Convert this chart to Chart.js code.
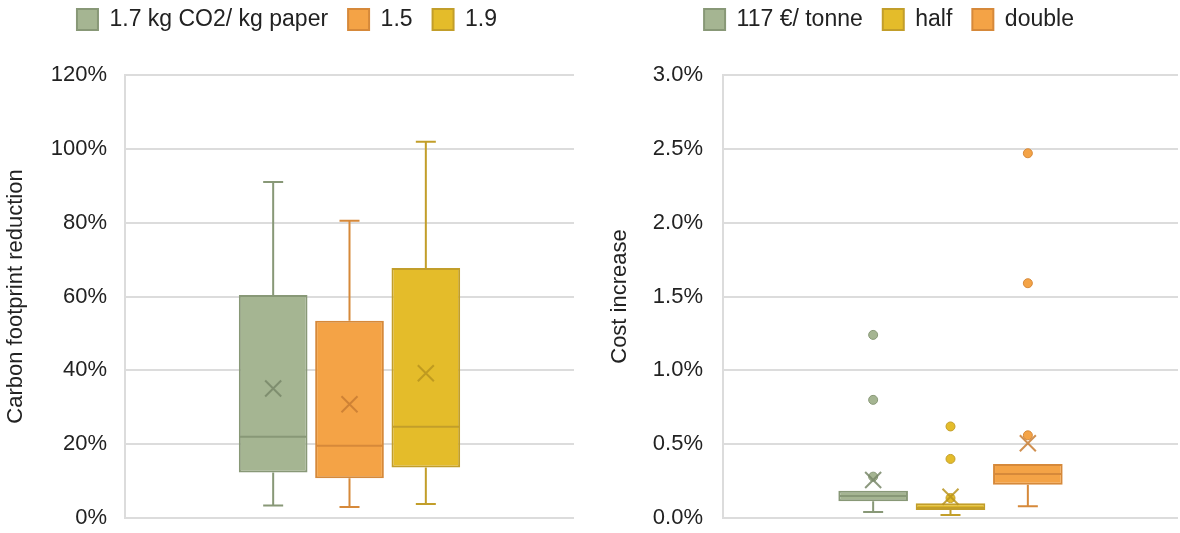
<!DOCTYPE html>
<html>
<head>
<meta charset="utf-8">
<script src="https://cdn.jsdelivr.net/npm/chart.js@4"></script>
<style>
  html, body { margin: 0; padding: 0; background: #fff; overflow: hidden; }
  .panel { position: absolute; top: 0; height: 533px; }
  #left { left: 0; width: 590px; }
  #right { left: 600px; width: 596px; }
</style>
</head>
<body>
<div class="panel" id="left"><canvas id="footprintChart"></canvas></div>
<div class="panel" id="right"><canvas id="costChart"></canvas></div>
<script>
// Carbon footprint reduction (%), one box per emission factor
const cfSeries = ['1.7 kg CO2/ kg paper', '1.5', '1.9'];
const cfMin = [3.4, 3.0, 3.8];
const cfQ1 = [12.3, 10.8, 13.7];
const cfMedian = [22.0, 19.6, 24.7];
const cfQ3 = [60.4, 53.4, 67.7];
const cfMax = [91.0, 80.5, 101.9];
const cfMean = [35.1, 30.8, 39.2];
const cfOutliers = [[], [], []];

// Cost increase (%), one box per carbon price
const costSeries = ['117 €/ tonne', 'half', 'double'];
const costMin = [0.04, 0.02, 0.08];
const costQ1 = [0.113, 0.054, 0.226];
const costMedian = [0.149, 0.07, 0.298];
const costQ3 = [0.185, 0.10, 0.366];
const costMax = [0.185, 0.10, 0.366];
const costMean = [0.257, 0.144, 0.506];
const costOutliers = [[1.24, 0.80, 0.28], [0.62, 0.40, 0.135], [2.47, 1.59, 0.56]];

const GREEN = { fill: '#a5b592', line: '#889877', mean: 'rgba(120,135,105,0.85)' };
const ORANGE = { fill: '#f4a346', line: '#d6893a', mean: 'rgba(200,125,50,0.85)' };
const YELLOW = { fill: '#e4bc2a', line: '#c29e2a', mean: 'rgba(185,148,30,0.85)' };

Chart.defaults.font.family = '"Liberation Sans", Arial, sans-serif';
Chart.defaults.font.size = 22;
Chart.defaults.color = '#222';

// whiskers, median, mean cross and outlier dots on top of the floating bars
const boxPlot = {
  id: 'boxPlot',
  afterDatasetsDraw(chart) {
    const ctx = chart.ctx;
    const y = chart.scales.y;
    chart.data.datasets.forEach((ds, i) => {
      const bar = chart.getDatasetMeta(i).data[0];
      const b = ds.box;
      const x = bar.x;
      const half = bar.width / 2;
      const yQ1 = y.getPixelForValue(ds.data[0][0]);
      const yQ3 = y.getPixelForValue(ds.data[0][1]);
      ctx.save();
      ctx.strokeStyle = ds.borderColor;
      ctx.lineWidth = 2;
      ctx.beginPath();
      if (b.max > ds.data[0][1]) {
        const yMax = y.getPixelForValue(b.max);
        ctx.moveTo(x, yQ3); ctx.lineTo(x, yMax);
        ctx.moveTo(x - 10, yMax); ctx.lineTo(x + 10, yMax);
      }
      if (b.min < ds.data[0][0]) {
        const yMin = y.getPixelForValue(b.min);
        ctx.moveTo(x, yQ1); ctx.lineTo(x, yMin);
        ctx.moveTo(x - 10, yMin); ctx.lineTo(x + 10, yMin);
      }
      const yMed = y.getPixelForValue(b.median);
      ctx.moveTo(x - half + 1, yMed); ctx.lineTo(x + half - 1, yMed);
      ctx.stroke();

      b.outliers.forEach(v => {
        ctx.beginPath();
        ctx.arc(x, y.getPixelForValue(v), 4.5, 0, Math.PI * 2);
        ctx.fillStyle = ds.backgroundColor;
        ctx.fill();
        ctx.lineWidth = 1;
        ctx.strokeStyle = ds.borderColor;
        ctx.stroke();
      });

      const yMean = y.getPixelForValue(b.mean);
      const s = 8;
      ctx.beginPath();
      ctx.strokeStyle = ds.meanColor;
      ctx.lineWidth = 2;
      ctx.moveTo(x - s, yMean - s); ctx.lineTo(x + s, yMean + s);
      ctx.moveTo(x - s, yMean + s); ctx.lineTo(x + s, yMean - s);
      ctx.stroke();
      ctx.restore();
    });
  }
};

// fixed legend band so both plot areas start at the same height
function legendBand(h) {
  return {
    id: 'legendBand',
    beforeLayout(chart) {
      const lg = chart.legend;
      if (lg && !lg._banded) {
        const fit = lg.fit;
        lg.fit = function () { fit.call(this); this.height = h; };
        lg._banded = true;
      }
    }
  };
}

function boxDatasets(names, min, q1, med, q3, max, mean, outliers, colors) {
  return names.map((name, i) => ({
    label: name,
    data: [[q1[i], q3[i]]],
    box: { min: min[i], median: med[i], max: max[i], mean: mean[i], outliers: outliers[i] },
    backgroundColor: colors[i].fill,
    borderColor: colors[i].line,
    meanColor: colors[i].mean,
    borderWidth: 2,
    borderSkipped: false,
    categoryPercentage: 0.51,
    barPercentage: 0.9
  }));
}

function makeChart(id, datasets, yOpts, axisWidth, tickPad, titlePad, rightPad) {
  return new Chart(document.getElementById(id), {
    type: 'bar',
    data: { labels: [''], datasets },
    options: {
      responsive: true,
      maintainAspectRatio: false,
      animation: false,
      layout: { padding: { top: -12, bottom: 15, left: 0, right: rightPad } },
      plugins: {
        legend: {
          position: 'top',
          labels: { boxWidth: 21, boxHeight: 21, padding: 20, font: { size: 23 } }
        },
        tooltip: { enabled: false }
      },
      scales: {
        x: { display: false },
        y: {
          min: yOpts.min,
          max: yOpts.max,
          ticks: {
            stepSize: yOpts.step,
            padding: tickPad,
            font: { size: 22 },
            callback: yOpts.format
          },
          grid: { color: '#dcdcdc', lineWidth: 2, drawTicks: false },
          border: { display: true, color: '#dcdcdc', width: 2 },
          title: {
            display: true,
            text: yOpts.title,
            font: { size: 22 },
            padding: { top: titlePad, bottom: 0 }
          },
          afterFit(scale) {
            scale.width = axisWidth;
            // tick padding is horizontal only here
            scale.paddingTop = 0;
            scale.paddingBottom = 0;
          }
        }
      }
    },
    plugins: [boxPlot, legendBand(87)]
  });
}

makeChart('footprintChart',
  boxDatasets(cfSeries, cfMin, cfQ1, cfMedian, cfQ3, cfMax, cfMean, cfOutliers, [GREEN, ORANGE, YELLOW]),
  { min: 0, max: 120, step: 20, format: v => v + '%', title: 'Carbon footprint reduction' },
  125, 18, 3, 16);

makeChart('costChart',
  boxDatasets(costSeries, costMin, costQ1, costMedian, costQ3, costMax, costMean, costOutliers, [GREEN, YELLOW, ORANGE]),
  { min: 0, max: 3, step: 0.5, format: v => v.toFixed(1) + '%', title: 'Cost increase' },
  123, 20, 7, 18);
</script>
</body>
</html>
